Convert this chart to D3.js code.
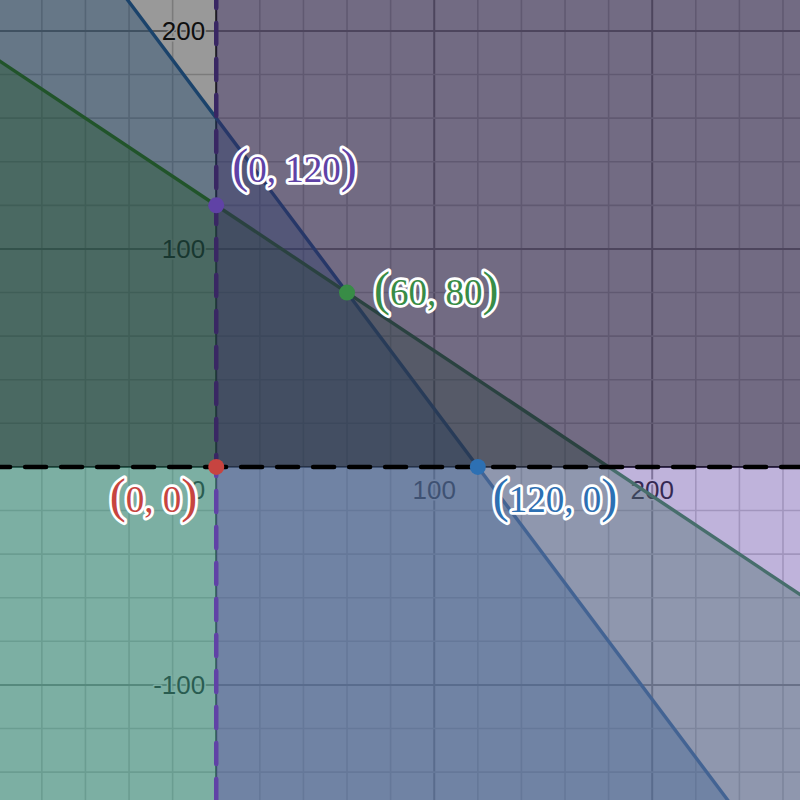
<!DOCTYPE html>
<html><head><meta charset="utf-8">
<script src="https://cdn.jsdelivr.net/npm/d3@7"></script>
<style>html,body{margin:0;padding:0;background:#fff;} svg{display:block}</style>
</head><body>
<svg id="chart" width="800" height="800"></svg>
<script>
// ---------- data ----------
const xDomain = [-99.2, 267.8];
const yDomain = [-152.8, 214.2];
const constraintLabels = ["4x + 3y ≤ 480", "2x + 3y ≤ 360", "x > 0", "y > 0"];
const coefX = [4, 2, 1, 0];
const coefY = [3, 3, 0, 1];
const rhs = [480, 360, 0, 0];
const senses = ["<=", "<=", ">=", ">="];
const dashedBoundary = [false, false, true, true];
const constraintColors = ["#2d70b3", "#388c46", "#6042a6", "#000000"];
const pointX = [0, 0, 60, 120];
const pointY = [0, 120, 80, 0];
const pointLabels = ["0, 0", "0, 120", "60, 80", "120, 0"];
const pointColors = ["#c74440", "#6042a6", "#388c46", "#2d70b3"];
const xTickValues = [100, 200];
const yTickValues = [200, 100, -100];
const originLabel = "0";
const gridStep = 20;
const majorStep = 100;

// ---------- setup ----------
const W = 800, H = 800;
const svg = d3.select("#chart");
const x = d3.scaleLinear().domain(xDomain).range([0, W]);
const y = d3.scaleLinear().domain(yDomain).range([H, 0]);

svg.append("rect").attr("width", W).attr("height", H).attr("fill", "#fff");

// grid
const gx = d3.range(Math.ceil(xDomain[0] / gridStep) * gridStep, xDomain[1], gridStep);
const gy = d3.range(Math.ceil(yDomain[0] / gridStep) * gridStep, yDomain[1], gridStep);
const grid = svg.append("g");
gx.filter(v => v !== 0).forEach(v => {
  const major = v % majorStep === 0;
  grid.append("line").attr("x1", x(v)).attr("x2", x(v)).attr("y1", 0).attr("y2", H)
    .attr("stroke", major ? "#969696" : "#cdcdcd").attr("stroke-width", major ? 2 : 1.6);
});
gy.filter(v => v !== 0).forEach(v => {
  const major = v % majorStep === 0;
  grid.append("line").attr("y1", y(v)).attr("y2", y(v)).attr("x1", 0).attr("x2", W)
    .attr("stroke", major ? "#969696" : "#cdcdcd").attr("stroke-width", major ? 2 : 1.6);
});

// axes
svg.append("line").attr("x1", x(0)).attr("x2", x(0)).attr("y1", 0).attr("y2", H)
  .attr("stroke", "#222").attr("stroke-width", 2);
svg.append("line").attr("y1", y(0)).attr("y2", y(0)).attr("x1", 0).attr("x2", W)
  .attr("stroke", "#222").attr("stroke-width", 2);

// axis labels
const axisFont = "'Liberation Sans', Arial, sans-serif";
const lab = svg.append("g").attr("font-family", axisFont).attr("font-size", 26)
  .attr("fill", "#1a1a1a").attr("stroke", "#fff").attr("stroke-width", 3)
  .attr("paint-order", "stroke").attr("stroke-linejoin", "round");
xTickValues.forEach(v => {
  lab.append("text").attr("x", x(v)).attr("y", y(0) + 32).attr("text-anchor", "middle").text(v);
});
yTickValues.forEach(v => {
  lab.append("text").attr("x", x(0) - 11).attr("y", y(v) + 9.5).attr("text-anchor", "end").text(v < 0 ? "-" + Math.abs(v) : v);
});
lab.append("text").attr("x", x(0) - 11).attr("y", y(0) + 32).attr("text-anchor", "end").text(originLabel);

// half-plane clipping
function clipPoly(poly, a, b, c, sense) {
  const f = p => sense === "<=" ? c - (a * p[0] + b * p[1]) : (a * p[0] + b * p[1]) - c;
  const out = [];
  for (let i = 0; i < poly.length; i++) {
    const P = poly[i], Q = poly[(i + 1) % poly.length];
    const fp = f(P), fq = f(Q);
    if (fp >= 0) out.push(P);
    if ((fp >= 0) !== (fq >= 0)) {
      const t = fp / (fp - fq);
      out.push([P[0] + t * (Q[0] - P[0]), P[1] + t * (Q[1] - P[1])]);
    }
  }
  return out;
}
const pad = 5;
const rectPoly = [[xDomain[0] - pad, yDomain[0] - pad], [xDomain[1] + pad, yDomain[0] - pad],
                  [xDomain[1] + pad, yDomain[1] + pad], [xDomain[0] - pad, yDomain[1] + pad]];
const lineGen = d3.line().x(d => x(d[0])).y(d => y(d[1]));

constraintLabels.forEach((name, i) => {
  const a = coefX[i], b = coefY[i], c = rhs[i];
  const poly = clipPoly(rectPoly, a, b, c, senses[i]);
  const g = svg.append("g").attr("class", "constraint").attr("data-name", name);
  g.append("path").attr("d", lineGen(poly) + "Z")
    .attr("fill", constraintColors[i]).attr("fill-opacity", 0.4).attr("stroke", "none");
  let seg;
  if (b !== 0) {
    const x0 = xDomain[0] - pad, x1 = xDomain[1] + pad;
    seg = [[x0, (c - a * x0) / b], [x1, (c - a * x1) / b]];
  } else {
    seg = [[c / a, yDomain[0]], [c / a, yDomain[1]]];
  }
  const ln = g.append("path").attr("d", lineGen(seg)).attr("fill", "none")
    .attr("stroke", constraintColors[i]);
  if (dashedBoundary[i]) {
    ln.attr("stroke-width", 4.5).attr("stroke-dasharray", "21,15").attr("stroke-linecap", "round");
  } else {
    ln.attr("stroke-width", 3.4);
  }
});

// points
const pts = svg.append("g");
pointX.forEach((px, i) => {
  pts.append("circle").attr("cx", x(px)).attr("cy", y(pointY[i])).attr("r", 8)
    .attr("fill", pointColors[i]);
});

// point labels
const labelFont = "'Liberation Serif', 'Times New Roman', serif";
const placement = [
  { dx: -19, dy: 45, anchor: "end" },
  { dx: 16, dy: -23, anchor: "start" },
  { dx: 27, dy: 12.5, anchor: "start" },
  { dx: 15, dy: 45, anchor: "start" }
];
pointLabels.forEach((t, i) => {
  const p = placement[i];
  const txt = svg.append("text")
    .attr("x", x(pointX[i]) + p.dx).attr("y", y(pointY[i]) + p.dy)
    .attr("text-anchor", p.anchor)
    .attr("font-family", labelFont)
    .attr("fill", pointColors[i]).attr("stroke", "#fff").attr("stroke-width", 5.5)
    .attr("stroke-linejoin", "round").attr("paint-order", "stroke");
  txt.append("tspan").attr("font-size", 48).text("(");
  txt.append("tspan").attr("font-size", 37).text(t);
  txt.append("tspan").attr("font-size", 48).text(")");
});
</script>
</body></html>
